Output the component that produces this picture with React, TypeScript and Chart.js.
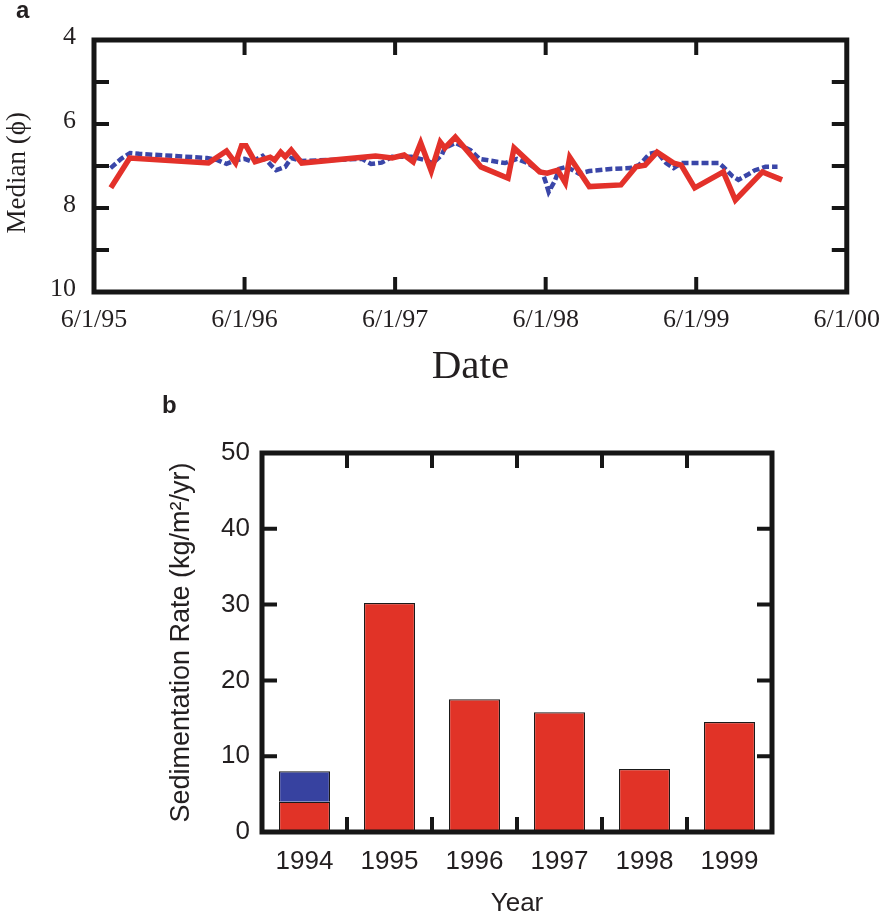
import { useEffect, useRef } from 'react';
import { Chart, registerables } from 'chart.js';

Chart.register(...registerables);

// ---------- Panel a: median grain size vs date (x = years since 6/1/95) ----------
const dateTickLabels = ['6/1/95', '6/1/96', '6/1/97', '6/1/98', '6/1/99', '6/1/00'];
const medianTickLabels = ['4', '', '6', '', '8', '', '10'];

const redT = [0.112, 0.237, 0.76, 0.88, 0.94, 0.98, 1.01, 1.07, 1.17, 1.2, 1.24, 1.27, 1.31, 1.38, 1.87, 1.98, 2.06, 2.12, 2.17, 2.24, 2.3, 2.33, 2.4, 2.57, 2.75, 2.79, 2.96, 3.01, 3.08, 3.13, 3.16, 3.29, 3.5, 3.6, 3.66, 3.74, 3.85, 3.9, 3.99, 4.18, 4.26, 4.44, 4.57];
const redV = [7.52, 6.81, 6.93, 6.64, 6.93, 6.52, 6.52, 6.9, 6.79, 6.86, 6.67, 6.78, 6.62, 6.93, 6.76, 6.81, 6.74, 6.9, 6.45, 7.12, 6.43, 6.57, 6.31, 7.02, 7.29, 6.57, 7.14, 7.17, 7.1, 7.4, 6.79, 7.49, 7.45, 7.02, 6.98, 6.67, 6.93, 6.98, 7.52, 7.14, 7.81, 7.14, 7.33];

const blueT = [0.11, 0.18, 0.24, 0.3, 0.75, 0.82, 0.88, 0.94, 1.0, 1.05, 1.12, 1.18, 1.21, 1.27, 1.31, 1.38, 1.78, 1.84, 1.91, 1.98, 2.11, 2.2, 2.25, 2.31, 2.33, 2.4, 2.5, 2.56, 2.73, 2.81, 2.88, 2.98, 3.0, 3.02, 3.06, 3.09, 3.14, 3.22, 3.29, 3.43, 3.56, 3.62, 3.66, 3.69, 3.74, 3.8, 3.85, 3.9, 4.15, 4.18, 4.24, 4.28, 4.34, 4.39, 4.46, 4.54];
const blueV = [7.05, 6.83, 6.69, 6.71, 6.81, 6.86, 6.95, 6.86, 6.83, 6.9, 6.76, 7.0, 7.1, 7.02, 6.81, 6.88, 6.83, 6.95, 6.92, 6.78, 6.78, 6.86, 6.93, 6.74, 6.57, 6.45, 6.62, 6.83, 6.93, 6.83, 6.93, 7.17, 7.38, 7.62, 7.36, 7.07, 7.02, 7.18, 7.12, 7.07, 7.05, 6.98, 6.83, 6.71, 6.67, 6.93, 7.05, 6.93, 6.93, 7.02, 7.24, 7.33, 7.21, 7.1, 7.02, 7.02];

// ---------- Panel b: sedimentation rate by year ----------
const years = ['1994', '1995', '1996', '1997', '1998', '1999'];
const rateRed = [4, 30.2, 17.5, 15.8, 8.3, 14.5];
const rateBlue = [4, null, null, null, null, null];

const LINE_RED = '#E3312A';
const LINE_BLUE = '#3A46A8';
const BAR_RED = '#E13327';
const BAR_BLUE = '#3742A0';
const INK = '#161616';
const TEXT = '#231F20';
const SERIF = '"Liberation Serif", "Times New Roman", serif';
const SANS = '"Liberation Sans", Arial, sans-serif';

const framePlugin = {
  id: 'frame',
  afterDatasetsDraw(chart: any, _args: any, opts: any) {
    const { ctx, chartArea: a, scales } = chart;
    const len = opts.tickLength ?? 15;
    ctx.save();
    ctx.strokeStyle = INK;
    ctx.lineCap = 'butt';
    ctx.lineWidth = opts.tickWidth ?? 4;
    const xs: number[] = [];
    const xScale = scales.x;
    if (opts.xMode === 'between') {
      const n = xScale.ticks.length;
      for (let i = 0; i < n - 1; i++) {
        xs.push((xScale.getPixelForValue(i) + xScale.getPixelForValue(i + 1)) / 2);
      }
    } else {
      xScale.ticks.forEach((t: any) => {
        if (t.value > xScale.min && t.value < xScale.max) xs.push(xScale.getPixelForValue(t.value));
      });
    }
    const ys: number[] = [];
    const yScale = scales.y;
    yScale.ticks.forEach((t: any) => {
      if (t.value > yScale.min && t.value < yScale.max) ys.push(yScale.getPixelForValue(t.value));
    });
    ctx.beginPath();
    xs.forEach((x) => {
      ctx.moveTo(x, a.bottom);
      ctx.lineTo(x, a.bottom - len);
      ctx.moveTo(x, a.top);
      ctx.lineTo(x, a.top + len);
    });
    ys.forEach((y) => {
      ctx.moveTo(a.left, y);
      ctx.lineTo(a.left + len, y);
      ctx.moveTo(a.right, y);
      ctx.lineTo(a.right - len, y);
    });
    ctx.stroke();
    ctx.lineWidth = opts.frameWidth ?? 5;
    ctx.lineJoin = 'miter';
    ctx.strokeRect(a.left, a.top, a.right - a.left, a.bottom - a.top);
    ctx.restore();
  },
};

export default function App() {
  const topRef = useRef<HTMLCanvasElement | null>(null);
  const botRef = useRef<HTMLCanvasElement | null>(null);

  useEffect(() => {
    const top = new Chart(topRef.current as HTMLCanvasElement, {
      type: 'line',
      data: {
        datasets: [
          {
            label: 'Median (red)',
            data: redT.map((t, i) => ({ x: t, y: redV[i] })),
            borderColor: LINE_RED,
            borderWidth: 5.5,
            pointRadius: 0,
            tension: 0,
            fill: false,
            borderJoinStyle: 'miter',
          },
          {
            label: 'Median (blue)',
            data: blueT.map((t, i) => ({ x: t, y: blueV[i] })),
            borderColor: LINE_BLUE,
            borderWidth: 4.5,
            borderDash: [7, 3],
            pointRadius: 0,
            tension: 0,
            fill: false,
          },
        ],
      } as any,
      options: {
        animation: false,
        responsive: false,
        maintainAspectRatio: false,
        layout: { padding: { top: 40, right: 41, left: 0, bottom: 0 } },
        plugins: {
          legend: { display: false },
          tooltip: { enabled: false },
          frame: { xMode: 'values', tickLength: 15, tickWidth: 4, frameWidth: 5 },
        } as any,
        scales: {
          x: {
            type: 'linear',
            min: 0,
            max: 5,
            afterBuildTicks: (s: any) => {
              s.ticks = dateTickLabels.map((_, i) => ({ value: i }));
            },
            ticks: {
              callback: (v: any) => dateTickLabels[Math.round(Number(v))],
              font: { family: SERIF, size: 26 },
              color: TEXT,
              padding: 13,
              maxRotation: 0,
              autoSkip: false,
            },
            grid: { display: false, drawTicks: false },
            border: { display: false },
            title: {
              display: true,
              text: 'Date',
              font: { family: SERIF, size: 41 },
              color: TEXT,
              padding: { top: 0, bottom: 8 },
            },
            afterFit: (s: any) => {
              s.height = 108;
            },
          },
          y: {
            type: 'linear',
            reverse: true,
            min: 4,
            max: 10,
            ticks: {
              stepSize: 1,
              callback: (v: any) => medianTickLabels[Math.round(Number(v)) - 4],
              font: { family: SERIF, size: 26 },
              color: TEXT,
              padding: 18,
              labelOffset: -3,
              autoSkip: false,
            },
            grid: { display: false, drawTicks: false },
            border: { display: false },
            title: {
              display: true,
              text: 'Median (ϕ)  ',
              font: { family: SERIF, size: 27 },
              color: TEXT,
              padding: { top: 2, bottom: 0 },
            },
            afterFit: (s: any) => {
              s.width = 94;
            },
          },
        },
      } as any,
      plugins: [framePlugin],
    });

    const bot = new Chart(botRef.current as HTMLCanvasElement, {
      type: 'bar',
      data: {
        labels: years,
        datasets: [
          {
            label: 'Rate (red)',
            data: rateRed,
            backgroundColor: BAR_RED,
            borderColor: '#1a1a1a',
            borderWidth: 1.2,
            barPercentage: 0.6,
            categoryPercentage: 1,
            stack: 's',
          },
          {
            label: 'Rate (blue)',
            data: rateBlue,
            backgroundColor: BAR_BLUE,
            borderColor: '#1a1a1a',
            borderWidth: 1.2,
            barPercentage: 0.6,
            categoryPercentage: 1,
            stack: 's',
          },
        ],
      } as any,
      options: {
        animation: false,
        responsive: false,
        maintainAspectRatio: false,
        layout: { padding: { top: 63, right: 121, left: 0, bottom: 0 } },
        plugins: {
          legend: { display: false },
          tooltip: { enabled: false },
          frame: { xMode: 'between', tickLength: 15, tickWidth: 4, frameWidth: 5 },
        } as any,
        scales: {
          x: {
            stacked: true,
            ticks: {
              font: { family: SANS, size: 26 },
              color: TEXT,
              padding: 14,
              maxRotation: 0,
            },
            grid: { display: false, drawTicks: false },
            border: { display: false },
            title: {
              display: true,
              text: 'Year',
              font: { family: SANS, size: 26 },
              color: TEXT,
              padding: { top: 0, bottom: 0 },
            },
            afterFit: (s: any) => {
              s.height = 87;
            },
          },
          y: {
            stacked: true,
            min: 0,
            max: 50,
            ticks: {
              stepSize: 10,
              font: { family: SANS, size: 26 },
              color: TEXT,
              padding: 12,
            },
            grid: { display: false, drawTicks: false },
            border: { display: false },
            title: {
              display: true,
              text: 'Sedimentation Rate (kg/m²/yr)',
              font: { family: SANS, size: 27 },
              color: TEXT,
              padding: { top: 165, bottom: 0 },
            },
            afterFit: (s: any) => {
              s.width = 262;
            },
          },
        },
      } as any,
      plugins: [framePlugin],
    });

    return () => {
      top.destroy();
      bot.destroy();
    };
  }, []);

  const panelLabel = (left: number, top: number): any => ({
    position: 'absolute',
    left,
    top,
    fontFamily: SANS,
    fontWeight: 'bold',
    fontSize: 24,
    lineHeight: '24px',
    color: TEXT,
    margin: 0,
  });

  return (
    <div style={{ position: 'absolute', left: 0, top: 0, width: 893, height: 919, background: '#fff' }}>
      <canvas ref={topRef} width={893} height={400} style={{ position: 'absolute', left: 0, top: 0 }} />
      <canvas ref={botRef} width={893} height={529} style={{ position: 'absolute', left: 0, top: 390 }} />
      <div style={panelLabel(16, -2)}>a</div>
      <div style={panelLabel(162, 393)}>b</div>
    </div>
  );
}
